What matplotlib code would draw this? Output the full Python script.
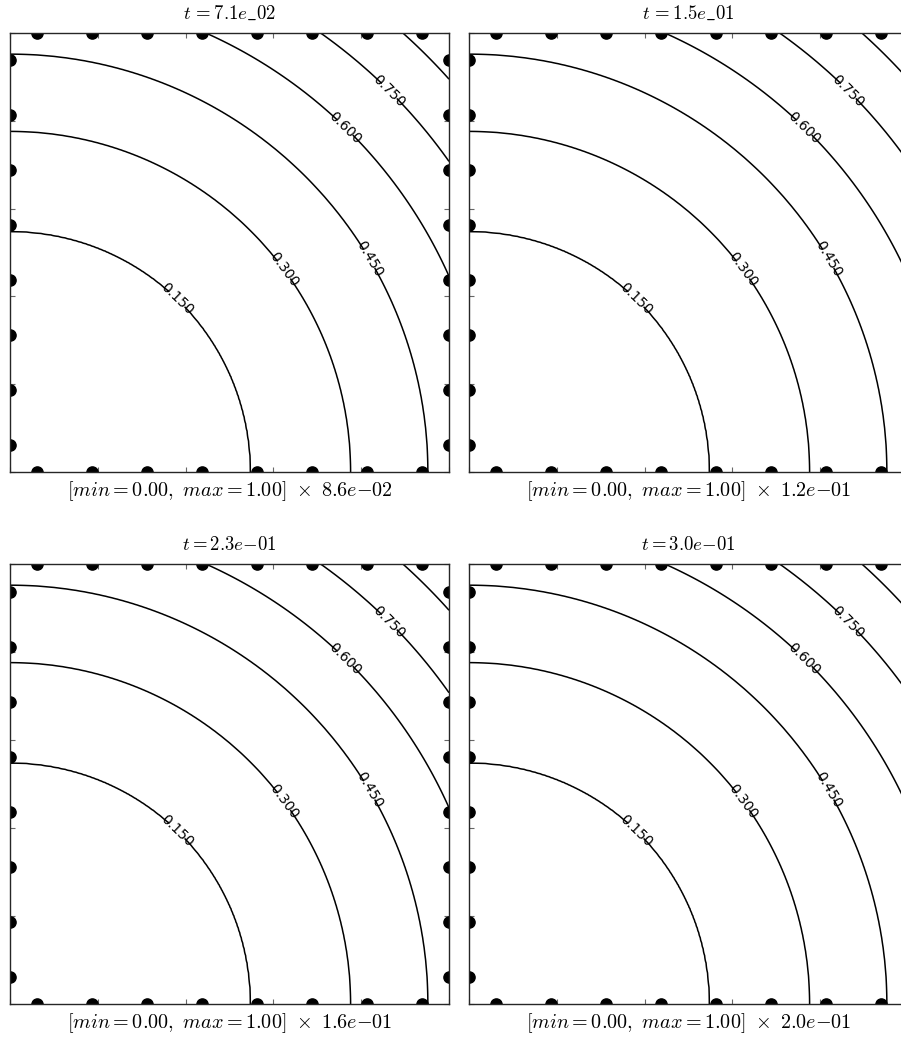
import numpy as np
import matplotlib
matplotlib.use("Agg")
import matplotlib.pyplot as plt

plt.rcParams['mathtext.fontset'] = 'cm'

profile_r = [0.0, 0.548, 0.776, 0.952, 1.095, 1.225, 1.342, 1.4143]
profile_val = [0.0, 0.15, 0.30, 0.45, 0.60, 0.75, 0.90, 1.0]

levels = [0.15, 0.30, 0.45, 0.60, 0.75, 0.90]
labelled = [0.15, 0.30, 0.45, 0.60, 0.75]

# boundary nodes (same on all four edges)
nodes = [0.0625, 0.1875, 0.3125, 0.4375, 0.5625, 0.6875, 0.8125, 0.9375]

titles = [r'$t\,=7.1e\_02$', r'$t\,=1.5e\_01$', r'$t=2.3e{-}01$', r'$t=3.0e{-}01$']
scales = ['8.6e{-}02', '1.2e{-}01', '1.6e{-}01', '2.0e{-}01']
vmin = [0.0, 0.0, 0.0, 0.0]
vmax = [1.0, 1.0, 1.0, 1.0]

# label spots (data coords), one per labelled level
label_pos = [(0.383, 0.396), (0.631, 0.465), (0.786, 0.465), (0.763, 0.784), (0.866, 0.870)]

W, H = 901, 1037
fig = plt.figure(figsize=(W / 100, H / 100), dpi=100)

# pixel boxes: left, top, right, bottom
boxes = [(10, 33, 449, 472), (469, 33, 908, 472),
         (10, 564, 449, 1004), (469, 564, 908, 1004)]

x = np.linspace(0, 1, 301)
X, Y = np.meshgrid(x, x)
R = np.sqrt(X**2 + Y**2)
Z = np.interp(R, profile_r, profile_val)

nn = np.array(nodes)
for k, (l, t, r, b) in enumerate(boxes):
    ax = fig.add_axes([l / W, 1 - b / H, (r - l) / W, (b - t) / H])
    cs = ax.contour(X, Y, Z, levels=levels, colors='black', linewidths=1.1)
    ax.clabel(cs, levels=labelled, fmt='%.3f', fontsize=10, inline=True,
              inline_spacing=-9, manual=label_pos)

    # dots on the four edges, clipped to the frame
    for xs, ys in [(nn, np.zeros_like(nn)), (nn, np.ones_like(nn)),
                   (np.zeros_like(nn), nn), (np.ones_like(nn), nn)]:
        sc = ax.scatter(xs, ys, s=65, color='black', zorder=3)
        sc.set_clip_path(ax.patch)

    ax.set_xlim(0, 1)
    ax.set_ylim(0, 1)
    ax.set_xticks([0, 0.2, 0.4, 0.6, 0.8, 1.0])
    ax.set_yticks([0, 0.2, 0.4, 0.6, 0.8, 1.0])
    ax.tick_params(direction='in', length=3.5, color='0.4', width=0.8,
                   top=True, right=True, labelbottom=False, labelleft=False)
    for sp in ax.spines.values():
        sp.set_linewidth(1.0)
        sp.set_color('0.15')
        sp.set_zorder(4)

    ax.set_title(titles[k], fontsize=13.5, pad=10)
    ax.set_xlabel(r'$[min=%.2f,\ max=%.2f]\ \times\ %s$' % (vmin[k], vmax[k], scales[k]),
                  fontsize=14.5, labelpad=5)

fig.savefig('out.png', dpi=100)
